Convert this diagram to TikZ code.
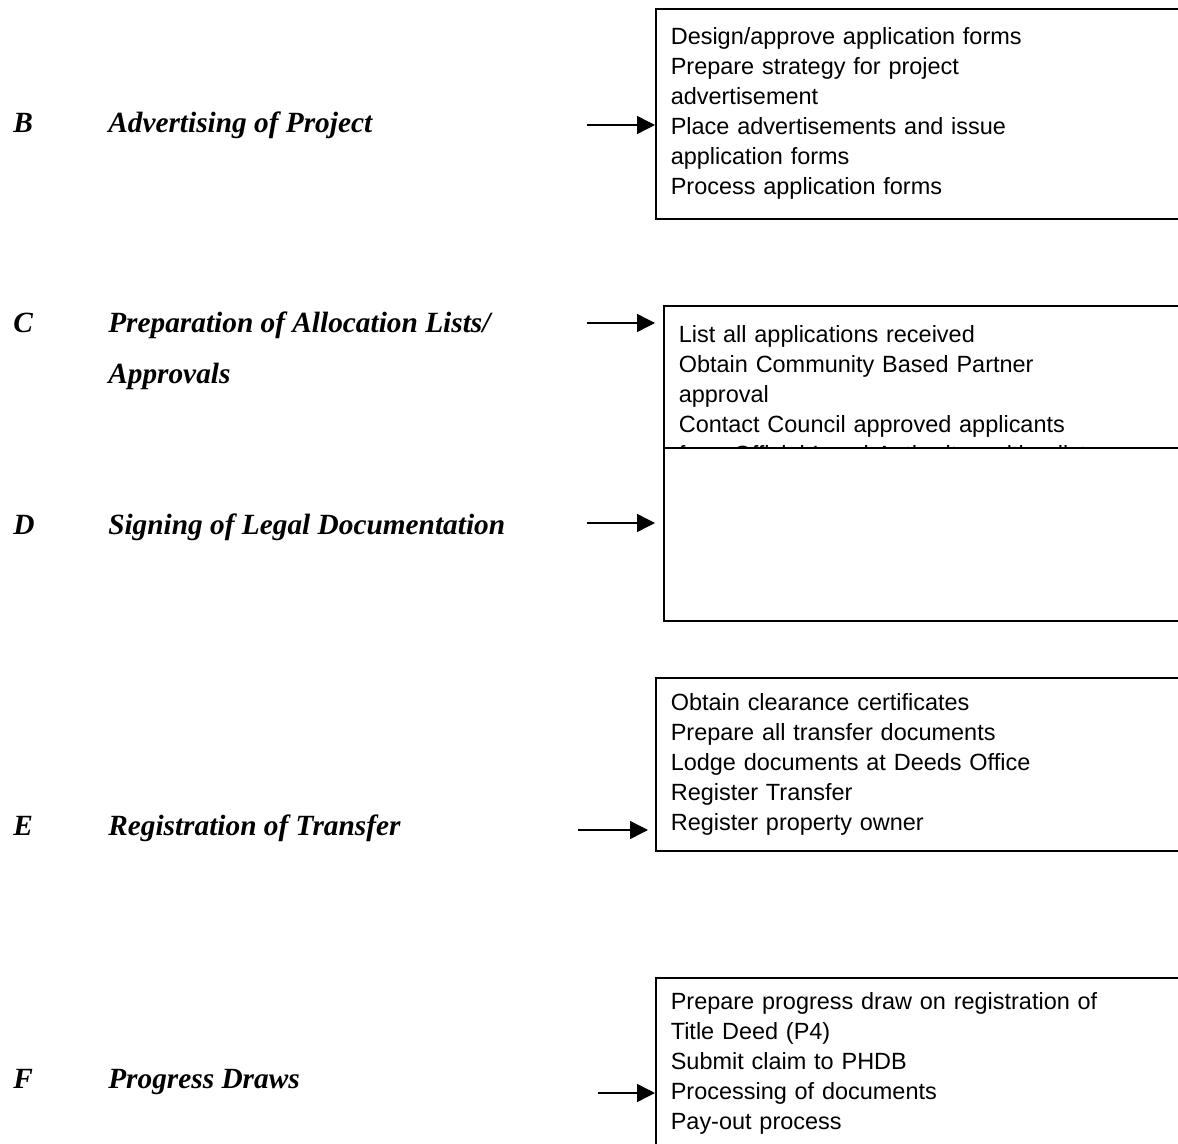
\documentclass[tikz,border=0pt]{standalone}
\usepackage{fontspec}
\setmainfont{Liberation Serif}
\newfontfamily\boxfont{Liberation Sans}
\usetikzlibrary{arrows.meta,positioning}
\tikzset{
  stage/.style={anchor=base west, inner sep=0pt, align=left, font=\fontsize{22}{38.25}\selectfont\bfseries\itshape},
  tasks/.style={draw, line width=1.2pt, fill=white, anchor=north west, align=left,
    text width=427.5pt, inner xsep=11.25pt, inner ysep=0pt,
    font=\boxfont\fontsize{17.6}{22.5}\selectfont},
  arr/.style={line width=1.1pt, -{Triangle[length=13.5pt, width=13.5pt]}}
}
\begin{document}
\begin{tikzpicture}[x=0.75pt, y=-0.75pt]
  \clip (0,0) rectangle (1178,1144);
  \fill[white] (0,0) rectangle (1178,1144);
  % stage labels
  \node[stage] (letB) at (13,133) {B};
  \node[stage] (stageB) at (108,133) {Advertising of Project};
  \node[stage] (letC) at (13,333) {C};
  \node[stage] (stageC) at (108,384) {Preparation of Allocation Lists/\\Approvals};
  \node[stage] (letD) at (13,535) {D};
  \node[stage] (stageD) at (108,535) {Signing of Legal Documentation};
  \node[stage] (letE) at (13,835) {E};
  \node[stage] (stageE) at (108,835) {Registration of Transfer};
  \node[stage] (letF) at (13,1088) {F};
  \node[stage] (stageF) at (108,1088) {Progress Draws};
  % task boxes
  \node[tasks, minimum height=157.5pt] (boxB) at (655,8) {Design/approve application forms\\Prepare strategy for project\\advertisement\\Place advertisements and issue\\application forms\\Process application forms};
  \node[tasks, minimum height=136.5pt] (boxC) at (663,305) {List all applications received\\Obtain Community Based Partner\\approval\\Contact Council approved applicants\\from Official Local Authority waiting list};
  \node[tasks, minimum height=129.75pt] (boxD) at (663,447) {};
  \node[tasks, minimum height=129.75pt] (boxE) at (655,677) {Obtain clearance certificates\\Prepare all transfer documents\\Lodge documents at Deeds Office\\Register Transfer\\Register property owner};
  \node[tasks, minimum height=129pt] (boxF) at (655,977) {Prepare progress draw on registration of\\Title Deed (P4)\\Submit claim to PHDB\\Processing of documents\\Pay-out process};
  % arrows
  \coordinate (tB) at (587,125);
  \coordinate (tC) at (587,323);
  \coordinate (tD) at (587,523);
  \coordinate (tE) at (578,830);
  \coordinate (tF) at (598,1093);
  \draw[arr] (tB) -- (tB -| boxB.west);
  \draw[arr, shorten >=6pt] (tC) -- (tC -| boxC.west);
  \draw[arr, shorten >=6pt] (tD) -- (tD -| boxD.west);
  \draw[arr, shorten >=5.25pt] (tE) -- (tE -| boxE.west);
  \draw[arr] (tF) -- (tF -| boxF.west);
\end{tikzpicture}
\end{document}
